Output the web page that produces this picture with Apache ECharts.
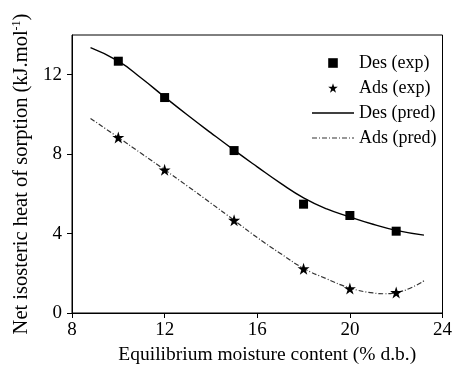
<!DOCTYPE html>
<html>
<head>
<meta charset="utf-8">
<script src="https://cdn.jsdelivr.net/npm/echarts@6/dist/echarts.min.js"></script>
<style>html,body{margin:0;padding:0;background:#fff;}#c{width:455px;height:374px;}</style>
</head>
<body>
<div id="c"></div>
<script>
const xTicks = [8, 12, 16, 20, 24];
const yTicks = [0, 4, 8, 12];

const desExpX = [10, 12, 15, 18, 20, 22];
const desExpY = [12.68, 10.85, 8.18, 5.48, 4.91, 4.12];
const adsExpX = [10, 12, 15, 18, 20, 22];
const adsExpY = [8.84, 7.21, 4.67, 2.23, 1.23, 1.03];

const desPredX = [8.8, 10, 11, 12, 13, 14, 15, 16, 17, 18, 19, 20, 21, 22, 23.2];
const desPredY = [13.36, 12.68, 11.82, 10.88, 9.96, 9.07, 8.2, 7.36, 6.54, 5.8, 5.24, 4.84, 4.47, 4.16, 3.92];
const adsPredX = [8.8, 10, 11, 12, 13, 14, 15, 16, 17, 18, 19, 20, 21, 21.5, 22, 22.6, 23.2];
const adsPredY = [9.8, 8.84, 8.03, 7.21, 6.38, 5.53, 4.67, 3.8, 3.0, 2.25, 1.72, 1.26, 1.01, 0.97, 1.03, 1.25, 1.62];

const zip = (xs, ys) => xs.map((x, i) => [x, ys[i]]);
const FONT = 'Liberation Serif';
const legendText = {fontFamily: FONT, fontSize: 18, color: '#000', lineHeight: 18};

const chart = echarts.init(document.getElementById('c'), null, {renderer: 'canvas'});
chart.setOption({
  animation: false,
  backgroundColor: '#fff',
  grid: {left: 72, right: 11, top: 35, bottom: 61, show: true, borderColor: '#000', borderWidth: 1},
  textStyle: {fontFamily: FONT, color: '#000'},
  legend: [
    {
      orient: 'vertical', left: 307, top: 49,
      itemWidth: 42, itemHeight: 12, itemGap: 7,
      textStyle: legendText,
      data: ['Des (exp)', 'Ads (exp)']
    },
    {
      orient: 'vertical', left: 307, top: 99,
      itemWidth: 42, itemHeight: 2, itemGap: 7,
      textStyle: legendText,
      data: [
        {name: 'Des (pred)', icon: 'path://M0,0H42V1.3H0Z'},
        {name: 'Ads (pred)', icon: 'path://M0,0H5V1H0Z M7,0H8V1H7Z M10,0H15V1H10Z M17,0H18V1H17Z M20,0H25V1H20Z M27,0H28V1H27Z M30,0H35V1H30Z M37,0H38V1H37Z M40,0H42V1H40Z'}
      ]
    }
  ],
  xAxis: {
    type: 'value', min: 8, max: 24, interval: 4,
    name: 'Equilibrium moisture content (% d.b.)', nameLocation: 'middle', nameGap: 32,
    nameTextStyle: {fontFamily: FONT, fontSize: 19.5, color: '#000', padding: [0, 0, 0, 20]},
    axisLine: {show: true, lineStyle: {color: '#000', width: 1}},
    axisTick: {show: true, inside: false, length: 5, lineStyle: {color: '#000'}, customValues: xTicks},
    axisLabel: {fontFamily: FONT, fontSize: 19, color: '#000', margin: 8, customValues: xTicks},
    splitLine: {show: false}
  },
  yAxis: {
    type: 'value', min: 0, max: 14, interval: 4,
    name: 'Net isosteric heat of sorption (kJ.mol{sup|-1})', nameLocation: 'middle', nameGap: 37,
    nameTextStyle: {fontFamily: FONT, fontSize: 20.5, color: '#000',
      rich: {sup: {fontFamily: FONT, fontSize: 12, color: '#000', verticalAlign: 'top', padding: [0, 0, 10, 0]}}},
    axisLine: {show: true, lineStyle: {color: '#000', width: 1}},
    axisTick: {show: true, inside: false, length: 5, lineStyle: {color: '#000'}, customValues: yTicks},
    axisLabel: {fontFamily: FONT, fontSize: 19, color: '#000', margin: 10, customValues: yTicks},
    splitLine: {show: false}
  },
  series: [
    {
      name: 'Des (pred)', type: 'line', smooth: 0.5, symbol: 'none', z: 2,
      lineStyle: {color: '#000', width: 1.4}, itemStyle: {color: '#000'},
      data: zip(desPredX, desPredY)
    },
    {
      name: 'Ads (pred)', type: 'line', smooth: 0.5, symbol: 'none', z: 2,
      lineStyle: {color: '#333', width: 1.2, type: [5, 2, 1, 2]}, itemStyle: {color: '#333'},
      data: zip(adsPredX, adsPredY)
    },
    {
      name: 'Des (exp)', type: 'line', symbol: 'rect', symbolSize: 9, z: 3,
      lineStyle: {color: 'rgba(0,0,0,0)', width: 0}, itemStyle: {color: '#000'},
      data: zip(desExpX, desExpY)
    },
    {
      name: 'Ads (exp)', type: 'line', symbol: 'path://M50,0 L61.8,36.2 L100,36.2 L69.1,58.6 L80.9,95.1 L50,72.7 L19.1,95.1 L30.9,58.6 L0,36.2 L38.2,36.2 Z', symbolSize: 12, z: 3,
      lineStyle: {color: 'rgba(0,0,0,0)', width: 0}, itemStyle: {color: '#000'},
      data: zip(adsExpX, adsExpY)
    }
  ]
});
</script>
</body>
</html>
